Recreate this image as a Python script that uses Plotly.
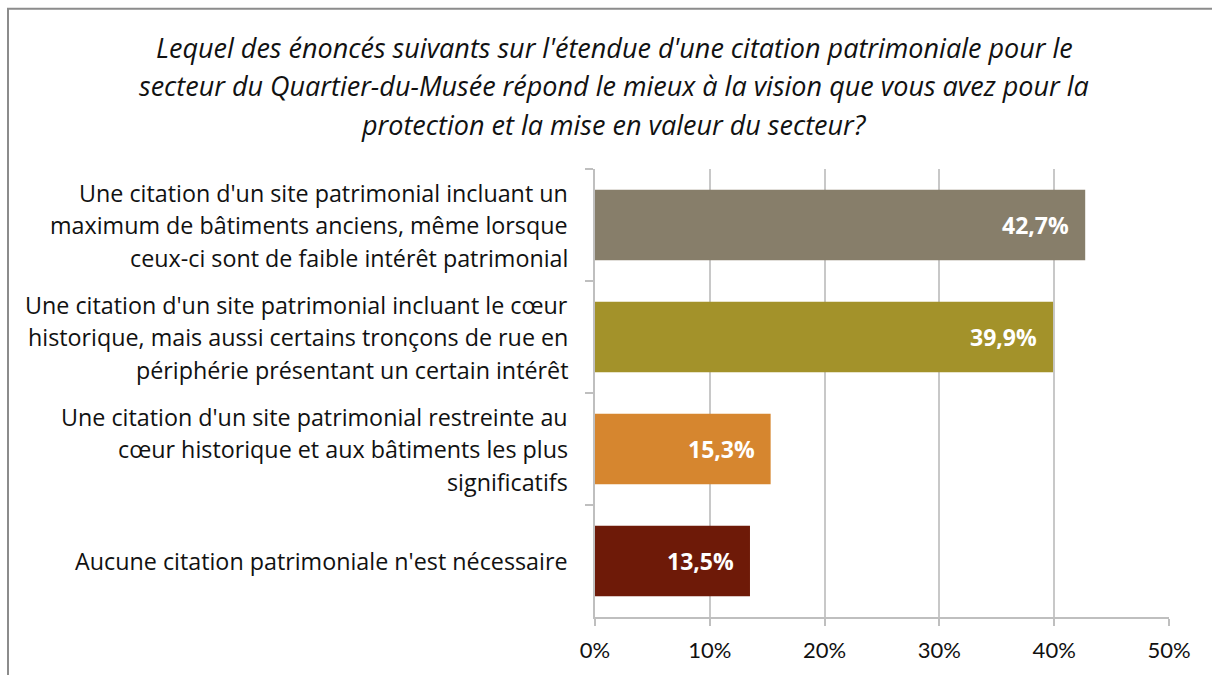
import plotly.graph_objects as go

title_lines = [
    "Lequel des énoncés suivants sur l'étendue d'une citation patrimoniale pour le",
    "secteur du Quartier-du-Musée répond le mieux à la vision que vous avez pour la",
    "protection et la mise en valeur du secteur?",
]
categories = [
    "Une citation d'un site patrimonial incluant un<br>maximum de bâtiments anciens, même lorsque<br>ceux-ci sont de faible intérêt patrimonial",
    "Une citation d'un site patrimonial incluant le cœur<br>historique, mais aussi certains tronçons de rue en<br>périphérie présentant un certain intérêt",
    "Une citation d'un site patrimonial restreinte au<br>cœur historique et aux bâtiments les plus<br>significatifs",
    "Aucune citation patrimoniale n'est nécessaire",
]
values = [42.7, 39.9, 15.3, 13.5]
value_labels = ["42,7%", "39,9%", "15,3%", "13,5%"]
colors = ["#877E6A", "#A3922A", "#D6862F", "#6E1A08"]
x_ticks = [0, 10, 20, 30, 40, 50]
x_ticktext = ["0%", "10%", "20%", "30%", "40%", "50%"]

W, H = 1212, 675
L, R, T, B = 595, 43, 169, 56
pw, ph = W - L - R, H - T - B

fig = go.Figure(go.Bar(
    x=values, y=categories, orientation="h",
    marker=dict(color=colors, line=dict(width=0)),
    width=0.63, hoverinfo="skip",
))

ann = []
# title lines
for i, line in enumerate(title_lines):
    ann.append(dict(
        text=line, xref="paper", yref="paper",
        x=(614 - L) / pw, y=(H - B - (47 + 38.5 * i)) / ph,
        xanchor="center", yanchor="middle", showarrow=False,
        font=dict(family="Open Sans", size=27, color="#111111", style="italic"),
    ))
# category labels, one annotation per line
for cat in categories:
    parts = cat.split("<br>")
    n = len(parts)
    for j, p in enumerate(parts):
        ann.append(dict(
            text=p, xref="paper", yref="y", x=0, y=cat,
            xanchor="right", yanchor="middle", xshift=-25,
            yshift=-(j - (n - 1) / 2) * 32.5, showarrow=False,
            font=dict(family="Open Sans", size=23.3, color="#111111"),
        ))
# value labels
for cat, v, t in zip(categories, values, value_labels):
    ann.append(dict(
        text="<b>" + t + "</b>", xref="x", yref="y", x=v, y=cat,
        xanchor="right", yanchor="middle", xshift=-14, showarrow=False,
        font=dict(family="Open Sans", size=23, color="white"),
    ))

fig.update_layout(
    width=W, height=H,
    margin=dict(l=L, r=R, t=T, b=B, pad=0),
    paper_bgcolor="white", plot_bgcolor="white",
    showlegend=False,
    annotations=ann,
    shapes=[dict(
        type="rect", xref="paper", yref="paper",
        x0=(8 - L) / pw, x1=(1220 - L) / pw,
        y0=(H - B - 690) / ph, y1=(H - B - 8) / ph,
        line=dict(color="#8c8c8c", width=2), fillcolor="rgba(0,0,0,0)",
        layer="below",
    )],
    xaxis=dict(
        range=[0, 50], tickvals=x_ticks, ticktext=x_ticktext,
        showgrid=True, gridcolor="#c8c8c8", gridwidth=2,
        showline=True, linecolor="#bfbfbf", linewidth=2,
        ticks="outside", ticklen=7, tickcolor="#bfbfbf", tickwidth=2,
        ticklabelstandoff=6,
        tickfont=dict(family="Lato", size=22, color="#111111"),
        zeroline=False, fixedrange=True,
    ),
    yaxis=dict(
        categoryorder="array", categoryarray=categories,
        autorange="reversed",
        showticklabels=False, showgrid=False,
        tickson="boundaries", ticks="outside", ticklen=8,
        tickcolor="#bfbfbf", tickwidth=2,
        showline=True, linecolor="#bfbfbf", linewidth=2,
        zeroline=False, fixedrange=True,
    ),
)

fig.write_html("out.html")
